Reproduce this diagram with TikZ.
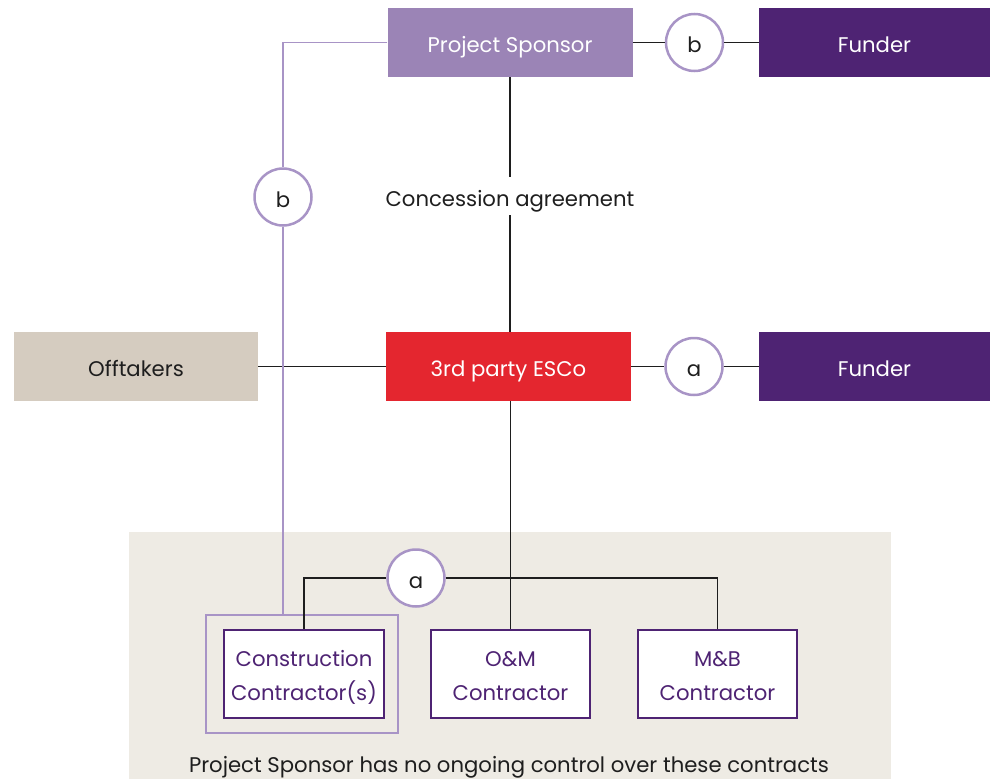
\documentclass[tikz,border=0pt]{standalone}
\usepackage{fontspec}
\setmainfont{Poppins}
\definecolor{sponsor}{HTML}{9B84B6}
\definecolor{funder}{HTML}{4E2373}
\definecolor{esco}{HTML}{E4262F}
\definecolor{offt}{HTML}{D5CCC0}
\definecolor{bgc}{HTML}{EEEBE4}
\definecolor{lav}{HTML}{A894C6}
\definecolor{ink}{HTML}{1E1E1E}
\newcommand{\bigtext}{\fontsize{21.2}{25}\selectfont}
\begin{document}
\begin{tikzpicture}[x=1pt,y=-1pt,
  box/.style={minimum width=#1,minimum height=69pt,inner sep=0pt,font=\bigtext,text height=20pt,text depth=0pt},
  box/.default=245pt,
  cbox/.style={draw=funder,line width=1.6pt,fill=white,text=funder,minimum width=160pt,minimum height=88pt,inner sep=0pt,align=center,font=\fontsize{21.2}{34}\selectfont,text height=60pt,text depth=7pt},
  circ/.style={circle,draw=lav,line width=2.5pt,fill=white,minimum size=57pt,inner sep=0pt,text=ink,font=\bigtext,text height=20pt,text depth=0pt},
  conn/.style={draw=ink,line width=1.4pt},
  lconn/.style={draw=lav,line width=1.4pt}]
\useasboundingbox (0,0) rectangle (990,779);
\fill[bgc] (129,532) rectangle (891,779);
% top row
\node[box,fill=sponsor,text=white] (ps) at (510,42.5) {Project Sponsor};
\node[box=231pt,fill=funder,text=white] (f1) at (874.5,42.5) {Funder};
\node[circ] (b1) at (694.5,42.5) {b};
% middle row
\node[box=244pt,fill=offt,text=ink] (off) at (136,366.5) {Offtakers};
\node[box,fill=esco,text=white] (esco) at (508.5,366.5) {3rd party ESCo};
\node[box=231pt,fill=funder,text=white] (f2) at (874.5,366.5) {Funder};
\node[circ] (a1) at (694,366.5) {a};
% concession
\node[minimum height=38pt,inner sep=0pt,text=ink,font=\bigtext,text height=20pt,text depth=0pt] (conc) at (510,196) {Concession agreement};
\node[circ] (b2) at (283,197) {b};
% bottom
\node[draw=lav,line width=1.4pt,minimum width=192pt,minimum height=118pt,inner sep=0pt] (outer) at (302,674) {};
\node[cbox] (con) at (304,674) {Construction\\Contractor(s)};
\node[cbox,minimum width=159pt] (om) at (510.5,674) {O\&M\\Contractor};
\node[cbox,minimum width=159pt] (mb) at (717.5,674) {M\&B\\Contractor};
\node[circ] (a2) at (416,578) {a};
\node[text=ink,inner sep=0pt,font=\bigtext,text height=20pt,text depth=0pt] (note) at (509,762) {Project Sponsor has no ongoing control over these contracts};
% connectors
\draw[conn] (ps.south) -- (conc.north);
\draw[conn] (conc.south) -- (conc.south |- esco.north);
\draw[conn] (ps.east) -- (b1.west);
\draw[conn] (b1.east) -- (f1.west);
\draw[conn] (off.east) -- (esco.west);
\draw[conn] (esco.east) -- (a1.west);
\draw[conn] (a1.east) -- (f2.west);
\draw[conn] (esco.south -| om.north) -- (om.north);
\draw[conn] (con.north) |- (a2.west);
\draw[conn] (a2.east) -| (mb.north);
\draw[lconn] (ps.west) -| (b2.north);
\draw[lconn] (b2.south) -- (b2.south |- outer.north);
\end{tikzpicture}
\end{document}
